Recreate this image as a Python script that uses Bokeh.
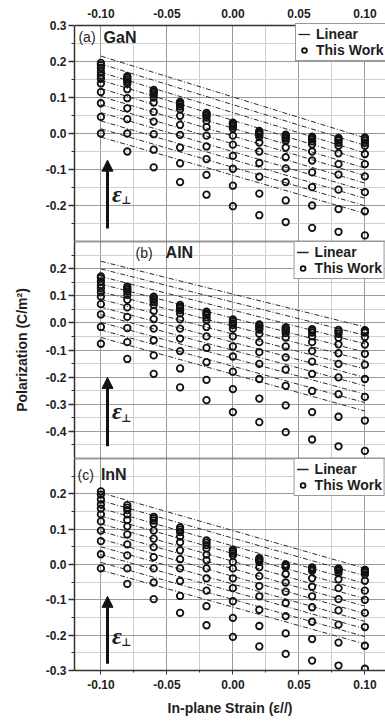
from bokeh.plotting import figure
from bokeh.layouts import column, row
from bokeh.models import (Range1d, FixedTicker, PrintfTickFormatter, Label, Span,
                          Arrow, NormalHead, Legend, LegendItem, AllLabels, BoxAnnotation,
                          Spacer)
from bokeh.embed import file_html
from bokeh.resources import INLINE

# ---------------- data ----------------
strain = [-0.10, -0.08, -0.06, -0.04, -0.02, 0.00, 0.02, 0.04, 0.06, 0.08, 0.10]
x_major = [-0.10, -0.05, 0.00, 0.05, 0.10]
x_minor = [-0.075, -0.025, 0.025, 0.075]

# "This Work" polarization values, one list per in-plane strain (bottom to top)
gan_cols = [
    [0.000, 0.046, 0.084, 0.115, 0.139, 0.152, 0.161, 0.171, 0.182, 0.190, 0.196],
    [-0.050, 0.000, 0.040, 0.070, 0.098, 0.123, 0.138, 0.145, 0.150, 0.155, 0.159],
    [-0.094, -0.045, -0.002, 0.033, 0.060, 0.086, 0.100, 0.108, 0.113, 0.117, 0.121],
    [-0.135, -0.083, -0.039, -0.004, 0.024, 0.049, 0.067, 0.075, 0.080, 0.084, 0.088],
    [-0.170, -0.115, -0.071, -0.036, -0.006, 0.018, 0.035, 0.044, 0.049, 0.053, 0.057],
    [-0.202, -0.145, -0.098, -0.062, -0.031, -0.006, 0.014, 0.020, 0.024, 0.027, 0.030],
    [-0.227, -0.167, -0.120, -0.082, -0.050, -0.025, -0.010, -0.004, 0.000, 0.004, 0.007],
    [-0.246, -0.186, -0.135, -0.097, -0.066, -0.039, -0.020, -0.014, -0.010, -0.006, -0.003],
    [-0.262, -0.200, -0.149, -0.108, -0.075, -0.050, -0.030, -0.022, -0.016, -0.012, -0.009],
    [-0.273, -0.210, -0.156, -0.114, -0.085, -0.055, -0.034, -0.026, -0.020, -0.016, -0.012],
    [-0.283, -0.216, -0.163, -0.119, -0.085, -0.057, -0.034, -0.026, -0.020, -0.015, -0.011],
]
aln_cols = [
    [-0.077, -0.015, 0.031, 0.069, 0.097, 0.113, 0.128, 0.140, 0.153, 0.165, 0.171],
    [-0.133, -0.071, -0.019, 0.022, 0.057, 0.085, 0.103, 0.115, 0.122, 0.128, 0.134],
    [-0.188, -0.120, -0.064, -0.021, 0.014, 0.044, 0.066, 0.077, 0.085, 0.091, 0.097],
    [-0.238, -0.168, -0.104, -0.058, -0.021, 0.013, 0.035, 0.046, 0.054, 0.060, 0.066],
    [-0.285, -0.210, -0.145, -0.092, -0.050, -0.015, 0.010, 0.020, 0.029, 0.035, 0.041],
    [-0.329, -0.244, -0.180, -0.124, -0.087, -0.050, -0.021, -0.008, -0.002, 0.006, 0.013],
    [-0.366, -0.279, -0.207, -0.151, -0.108, -0.071, -0.040, -0.025, -0.019, -0.012, -0.006],
    [-0.403, -0.304, -0.232, -0.172, -0.127, -0.087, -0.054, -0.038, -0.030, -0.023, -0.017],
    [-0.430, -0.329, -0.251, -0.188, -0.143, -0.104, -0.071, -0.050, -0.036, -0.029, -0.023],
    [-0.455, -0.346, -0.263, -0.201, -0.151, -0.112, -0.079, -0.055, -0.040, -0.032, -0.026],
    [-0.472, -0.360, -0.273, -0.207, -0.154, -0.114, -0.080, -0.052, -0.036, -0.030, -0.027],
]
inn_cols = [
    [-0.011, 0.029, 0.066, 0.096, 0.122, 0.142, 0.158, 0.170, 0.184, 0.198, 0.207],
    [-0.055, -0.011, 0.026, 0.057, 0.085, 0.108, 0.126, 0.142, 0.154, 0.161, 0.168],
    [-0.098, -0.051, -0.011, 0.021, 0.049, 0.073, 0.096, 0.115, 0.124, 0.130, 0.135],
    [-0.137, -0.089, -0.047, -0.011, 0.015, 0.040, 0.063, 0.079, 0.092, 0.099, 0.105],
    [-0.172, -0.118, -0.074, -0.039, -0.011, 0.012, 0.028, 0.045, 0.055, 0.062, 0.068],
    [-0.205, -0.151, -0.104, -0.067, -0.039, -0.011, 0.007, 0.026, 0.032, 0.038, 0.042],
    [-0.232, -0.174, -0.128, -0.090, -0.061, -0.033, -0.008, 0.007, 0.011, 0.015, 0.018],
    [-0.253, -0.195, -0.146, -0.109, -0.077, -0.051, -0.027, -0.008, -0.004, -0.001, 0.000],
    [-0.272, -0.211, -0.162, -0.121, -0.090, -0.063, -0.039, -0.018, -0.013, -0.010, -0.008],
    [-0.286, -0.221, -0.170, -0.130, -0.098, -0.067, -0.042, -0.024, -0.018, -0.014, -0.011],
    [-0.295, -0.230, -0.177, -0.137, -0.100, -0.074, -0.046, -0.028, -0.022, -0.018, -0.015],
]

# "Linear" model lines: value at strain -0.10 and at strain +0.10
gan_lin_start = [0.215, 0.193, 0.170, 0.148, 0.125, 0.103, 0.080, 0.058, 0.035, 0.013, -0.010]
gan_lin_end = [-0.012, -0.033, -0.054, -0.075, -0.096, -0.117, -0.138, -0.159, -0.180, -0.201, -0.222]
aln_lin_start = [0.227, 0.199, 0.171, 0.143, 0.115, 0.087, 0.058, 0.030, 0.002, -0.026, -0.054]
aln_lin_end = [-0.015, -0.046, -0.077, -0.108, -0.139, -0.170, -0.201, -0.232, -0.263, -0.294, -0.325]
inn_lin_start = [0.203, 0.181, 0.159, 0.137, 0.115, 0.094, 0.072, 0.050, 0.028, 0.006, -0.016]
inn_lin_end = [-0.011, -0.032, -0.054, -0.075, -0.097, -0.118, -0.139, -0.161, -0.182, -0.204, -0.225]

gan_y_major = [0.3, 0.2, 0.1, 0.0, -0.1, -0.2]
gan_y_minor = [0.25, 0.15, 0.05, -0.05, -0.15, -0.25]
aln_y_major = [0.2, 0.1, 0.0, -0.1, -0.2, -0.3, -0.4]
aln_y_minor = [0.25, 0.15, 0.05, -0.05, -0.15, -0.25, -0.35, -0.45]
inn_y_major = [0.2, 0.1, 0.0, -0.1, -0.2, -0.3]
inn_y_minor = [0.25, 0.15, 0.05, -0.05, -0.15, -0.25]

# ---------------- style ----------------
FONT = "Liberation Sans"
TXT = "#1e1e1e"
DARK = "#333333"
MAJ_GRID = "#9a9a9a"
MIN_GRID = "#cfcfcf"
W = 377
xr = Range1d(-0.12, 0.1156)
NAN = float("nan")


def style_y(p, major, minor, bounds):
    ax = p.yaxis[0]
    ax.ticker = FixedTicker(ticks=major, minor_ticks=minor)
    ax.formatter = PrintfTickFormatter(format="%.1f")
    ax.major_label_policy = AllLabels()
    ax.bounds = bounds
    ax.major_label_text_font = FONT
    ax.major_label_text_font_style = "bold"
    ax.major_label_text_font_size = "12px"
    ax.major_label_text_color = TXT
    ax.major_label_standoff = 2
    ax.major_tick_out = 6
    ax.major_tick_in = 0
    ax.minor_tick_out = 3
    ax.minor_tick_in = 0
    ax.axis_line_color = DARK
    ax.axis_line_width = 1.5
    ax.major_tick_line_color = DARK
    ax.major_tick_line_width = 1.3
    ax.minor_tick_line_color = DARK
    g = p.ygrid[0]
    g.ticker = FixedTicker(ticks=major + [-0.3, -0.5], minor_ticks=minor)
    g.grid_line_color = MAJ_GRID
    g.grid_line_width = 1
    g.minor_grid_line_color = MIN_GRID
    g.minor_grid_line_width = 1
    gx = p.xgrid[0]
    gx.ticker = FixedTicker(ticks=x_major, minor_ticks=x_minor)
    gx.grid_line_color = MAJ_GRID
    gx.grid_line_width = 1
    gx.minor_grid_line_color = MIN_GRID
    gx.minor_grid_line_width = 1


def style_x(ax, tick_out, standoff):
    ax.ticker = FixedTicker(ticks=x_major, minor_ticks=x_minor)
    ax.formatter = PrintfTickFormatter(format="%.2f")
    ax.major_label_policy = AllLabels()
    ax.major_label_text_font = FONT
    ax.major_label_text_font_style = "bold"
    ax.major_label_text_font_size = "12px"
    ax.major_label_text_color = TXT
    ax.major_label_standoff = standoff
    ax.major_tick_out = tick_out
    ax.major_tick_in = 0
    ax.minor_tick_out = max(tick_out - 2, 0)
    ax.minor_tick_in = 0
    ax.axis_line_color = DARK
    ax.axis_line_width = 1.5
    ax.major_tick_line_color = DARK
    ax.minor_tick_line_color = DARK


def add_data(p, cols, lin_start, lin_end, tag, name, tag_x, name_x, tag_y,
             arrow_y0, arrow_y1, eps_y, legend_loc):
    xs, ys = [], []
    for sx, col in zip(strain, cols):
        for v in col:
            xs.append(sx)
            ys.append(v)
    ml_x = [[strain[0], strain[-1]] for _ in lin_start]
    ml_y = [[a, b] for a, b in zip(lin_start, lin_end)]
    p.multi_line(xs=ml_x, ys=ml_y, line_color="#2a2a2a", line_width=1,
                 line_dash="5 2 1 2")
    circ = p.scatter(x=xs, y=ys, marker="circle", size=6.5, fill_color=None,
                     line_color="#111111", line_width=1.8)
    # legend-only solid line (no visible data)
    dummy = p.line(x=[strain[0], strain[1]], y=[NAN, NAN], line_color="#222222",
                   line_width=1.3)
    leg = Legend(items=[LegendItem(label="Linear", renderers=[dummy]),
                        LegendItem(label="This Work", renderers=[circ])],
                 location=legend_loc, margin=0, padding=2, spacing=0,
                 glyph_width=12, glyph_height=14, label_height=14, label_standoff=6,
                 label_text_font=FONT, label_text_font_style="bold",
                 label_text_font_size="14px", label_text_color=TXT,
                 label_text_line_height=1.0,
                 border_line_color=DARK, border_line_width=1.5,
                 background_fill_color="white", background_fill_alpha=1.0)
    p.add_layout(leg)
    p.add_layout(Label(x=tag_x, y=tag_y, text=tag, text_font=FONT, text_font_size="14px",
                       text_color=TXT, text_baseline="middle"))
    p.add_layout(Label(x=name_x, y=tag_y, text=name, text_font=FONT, text_font_size="16px",
                       text_font_style="bold", text_color=TXT, text_baseline="middle"))
    p.add_layout(Arrow(end=NormalHead(size=11, fill_color="#111111", line_color="#111111",
                                      line_width=1),
                       x_start=-0.095, y_start=arrow_y0, x_end=-0.095, y_end=arrow_y1,
                       line_width=3, line_color="#111111"))
    p.add_layout(Label(x=-0.0915, y=eps_y, text="ε", text_font="Liberation Serif",
                       text_font_size="24px", text_font_style="bold italic",
                       text_color=TXT, text_baseline="middle"))
    p.add_layout(Label(x=-0.0845, y=eps_y, y_offset=-7, text="⊥", text_font="DejaVu Sans",
                       text_font_size="11px", text_font_style="bold",
                       text_color=TXT, text_baseline="middle"))


common = dict(width=W, x_range=xr, output_backend="svg", toolbar_location=None,
              min_border_left=66, min_border_right=0, background_fill_color="white",
              border_fill_color="white")

# Panel (a) GaN -- frame reaches a little above 0.3 so the "0.3" label has room
pa = figure(height=241, y_range=Range1d(-0.3, 0.3194), x_axis_location="above",
            min_border_top=18, min_border_bottom=0, **common)
pa.outline_line_color = None
style_y(pa, gan_y_major, gan_y_minor, (-0.3, 0.3))
style_x(pa.xaxis[0], 0, 1)
pa.xaxis[0].axis_line_color = None
pa.xaxis[0].major_tick_line_color = None
pa.xaxis[0].minor_tick_line_color = None
pa.add_layout(BoxAnnotation(bottom=0.3, fill_color="white", fill_alpha=1.0,
                            line_color=None))
add_data(pa, gan_cols, gan_lin_start, gan_lin_end, "(a)", "GaN", -0.117, -0.098, 0.267,
         -0.264, -0.074, -0.167, (221, 180))
pa.add_layout(Span(location=0.3, dimension="width", line_color=DARK, line_width=1.5))
pa.add_layout(Span(location=-0.3, dimension="width", line_color=DARK, line_width=1.5))

# Panel (b) AlN
pb = figure(height=217, y_range=Range1d(-0.5, 0.3), x_axis_location=None,
            min_border_top=0, min_border_bottom=0, **common)
pb.outline_line_color = None
style_y(pb, aln_y_major, aln_y_minor, "auto")
pb.yaxis[0].axis_label = "Polarization (C/m²)"
pb.yaxis[0].axis_label_text_font = FONT
pb.yaxis[0].axis_label_text_font_style = "bold"
pb.yaxis[0].axis_label_text_font_size = "14px"
pb.yaxis[0].axis_label_text_color = TXT
pb.yaxis[0].axis_label_standoff = 13
add_data(pb, aln_cols, aln_lin_start, aln_lin_end, "(b)", "AlN", -0.0738, -0.051, 0.258,
         -0.455, -0.201, -0.325, "top_right")
pb.add_layout(Span(location=0.3, dimension="width", line_color=DARK, line_width=1.5))
pb.add_layout(Span(location=-0.5, dimension="width", line_color=DARK, line_width=1.5))

# Panel (c) InN
pc = figure(height=260, y_range=Range1d(-0.3, 0.3), x_axis_location="below",
            min_border_top=0, min_border_bottom=46, **common)
pc.outline_line_color = None
style_y(pc, inn_y_major, inn_y_minor, "auto")
style_x(pc.xaxis[0], 4, 5)
pc.xaxis[0].axis_label = "In-plane Strain (ε//)"
pc.xaxis[0].axis_label_text_font = FONT
pc.xaxis[0].axis_label_text_font_style = "bold"
pc.xaxis[0].axis_label_text_font_size = "14px"
pc.xaxis[0].axis_label_text_color = TXT
pc.xaxis[0].axis_label_standoff = 8
add_data(pc, inn_cols, inn_lin_start, inn_lin_end, "(c)", "InN", -0.1177, -0.100, 0.254,
         -0.281, -0.090, -0.202, "top_right")
pc.add_layout(Span(location=0.3, dimension="width", line_color=DARK, line_width=1.5))

layout = row(Spacer(width=8, height=10), column(pa, pb, pc, spacing=0), spacing=0)
open("out.html", "w").write(file_html(layout, INLINE))
